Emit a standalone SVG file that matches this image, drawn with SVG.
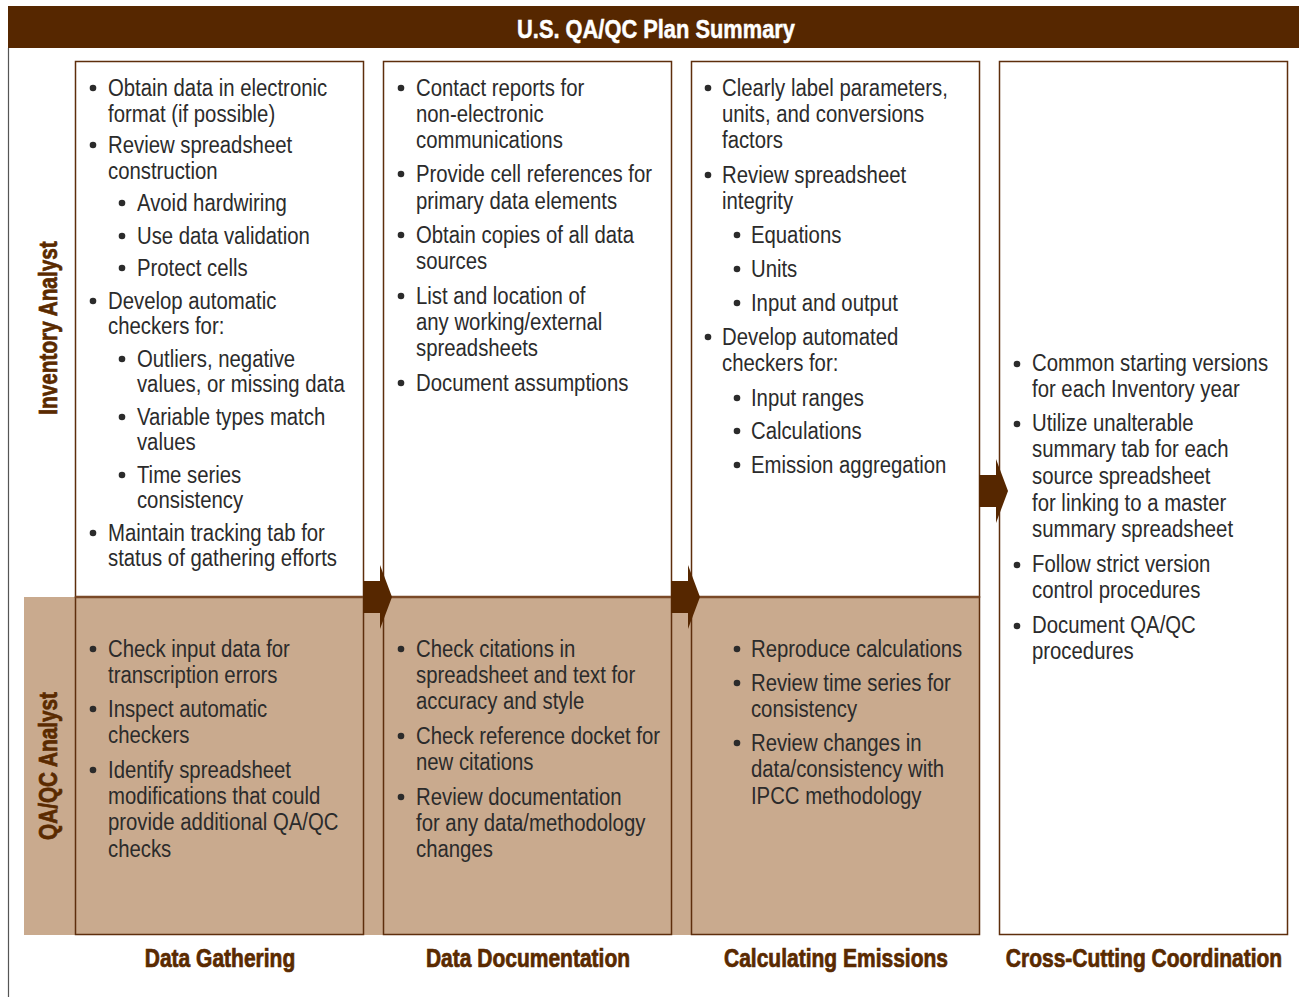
<svg xmlns="http://www.w3.org/2000/svg" width="1299" height="997" viewBox="0 0 1299 997">
<style>
.t{font-family:"Liberation Sans",Arial,sans-serif;font-size:24.5px;fill:#2b2b2b}
.b{font-family:"Liberation Sans",Arial,sans-serif;font-size:25px;font-weight:bold;fill:#5a2a00;stroke:#5a2a00;stroke-width:0.7}
.ttl{font-family:"Liberation Sans",Arial,sans-serif;font-size:26px;font-weight:bold;fill:#ffffff;stroke:#ffffff;stroke-width:0.5}
.box{fill:#ffffff;stroke:#5e2e0c;stroke-width:1.5}
.boxq{fill:#c9aa8e;stroke:#5e2e0c;stroke-width:1.5}
.div{stroke:#7a4a28;stroke-width:2.5}
.dot{fill:#2b2b2b}
.arr{fill:#562700}
</style>
<rect width="1299" height="997" fill="#ffffff"/>
<g id="frame">
<line x1="8.5" y1="48" x2="8.5" y2="997" stroke="#555" stroke-width="1.2"/>
<rect x="8" y="6" width="1291" height="42" fill="#562700"/>
<text class="ttl" transform="translate(656,38) scale(0.84,1)" text-anchor="middle">U.S. QA/QC Plan Summary</text>
<rect x="24" y="597" width="956" height="338" fill="#c9aa8e"/>
</g>
<g id="row-labels">
<text class="b" transform="translate(57,328) rotate(-90) scale(0.83,1)" text-anchor="middle">Inventory Analyst</text>
<text class="b" transform="translate(57,766) rotate(-90) scale(0.83,1)" text-anchor="middle">QA/QC Analyst</text>
</g>

<g id="col1">
<rect class="box" x="75.5" y="61.5" width="288" height="535.5"/>
<rect class="boxq" x="75.5" y="597" width="288" height="337.5"/>
<line class="div" x1="75.5" y1="597" x2="363.5" y2="597"/>
<g class="dot">
<circle cx="93" cy="88" r="3.3"/><circle cx="93" cy="145" r="3.3"/>
<circle cx="122" cy="203" r="3.3"/><circle cx="122" cy="236" r="3.3"/><circle cx="122" cy="268" r="3.3"/>
<circle cx="93" cy="301" r="3.3"/>
<circle cx="122" cy="359" r="3.3"/><circle cx="122" cy="417" r="3.3"/><circle cx="122" cy="475" r="3.3"/>
<circle cx="93" cy="533" r="3.3"/>
<circle cx="93" cy="649" r="3.3"/><circle cx="93" cy="709" r="3.3"/><circle cx="93" cy="770" r="3.3"/>
</g>
<g transform="translate(108,-1) scale(0.83,1)">
<text class="t" x="0" y="97">Obtain data in electronic</text>
<text class="t" x="0" y="123">format (if possible)</text>
<text class="t" x="0" y="154">Review spreadsheet</text>
<text class="t" x="0" y="180">construction</text>
<text class="t" x="34.9" y="212">Avoid hardwiring</text>
<text class="t" x="34.9" y="245">Use data validation</text>
<text class="t" x="34.9" y="277">Protect cells</text>
<text class="t" x="0" y="310">Develop automatic</text>
<text class="t" x="0" y="335">checkers for:</text>
<text class="t" x="34.9" y="368">Outliers, negative</text>
<text class="t" x="34.9" y="393">values, or missing data</text>
<text class="t" x="34.9" y="426">Variable types match</text>
<text class="t" x="34.9" y="451">values</text>
<text class="t" x="34.9" y="484">Time series</text>
<text class="t" x="34.9" y="509">consistency</text>
<text class="t" x="0" y="542">Maintain tracking tab for</text>
<text class="t" x="0" y="567">status of gathering efforts</text>
<text class="t" x="0" y="658">Check input data for</text>
<text class="t" x="0" y="684">transcription errors</text>
<text class="t" x="0" y="718">Inspect automatic</text>
<text class="t" x="0" y="744">checkers</text>
<text class="t" x="0" y="779">Identify spreadsheet</text>
<text class="t" x="0" y="805">modifications that could</text>
<text class="t" x="0" y="831">provide additional QA/QC</text>
<text class="t" x="0" y="858">checks</text>
</g>
<text class="b" transform="translate(220,967) scale(0.84,1)" text-anchor="middle">Data Gathering</text>
</g>

<g id="col2">
<rect class="box" x="383.5" y="61.5" width="288" height="535.5"/>
<rect class="boxq" x="383.5" y="597" width="288" height="337.5"/>
<line class="div" x1="383.5" y1="597" x2="671.5" y2="597"/>
<g class="dot">
<circle cx="401" cy="88" r="3.3"/><circle cx="401" cy="174" r="3.3"/><circle cx="401" cy="235" r="3.3"/>
<circle cx="401" cy="296" r="3.3"/><circle cx="401" cy="383" r="3.3"/>
<circle cx="401" cy="649" r="3.3"/><circle cx="401" cy="736" r="3.3"/><circle cx="401" cy="797" r="3.3"/>
</g>
<g transform="translate(416,-1) scale(0.83,1)">
<text class="t" x="0" y="97">Contact reports for</text>
<text class="t" x="0" y="123">non-electronic</text>
<text class="t" x="0" y="149">communications</text>
<text class="t" x="0" y="183">Provide cell references for</text>
<text class="t" x="0" y="210">primary data elements</text>
<text class="t" x="0" y="244">Obtain copies of all data</text>
<text class="t" x="0" y="270">sources</text>
<text class="t" x="0" y="305">List and location of</text>
<text class="t" x="0" y="331">any working/external</text>
<text class="t" x="0" y="357">spreadsheets</text>
<text class="t" x="0" y="392">Document assumptions</text>
<text class="t" x="0" y="658">Check citations in</text>
<text class="t" x="0" y="684">spreadsheet and text for</text>
<text class="t" x="0" y="710">accuracy and style</text>
<text class="t" x="0" y="745">Check reference docket for</text>
<text class="t" x="0" y="771">new citations</text>
<text class="t" x="0" y="806">Review documentation</text>
<text class="t" x="0" y="832">for any data/methodology</text>
<text class="t" x="0" y="858">changes</text>
</g>
<text class="b" transform="translate(528,967) scale(0.84,1)" text-anchor="middle">Data Documentation</text>
</g>

<g id="col3">
<rect class="box" x="691.5" y="61.5" width="288" height="535.5"/>
<rect class="boxq" x="691.5" y="597" width="288" height="337.5"/>
<line class="div" x1="691.5" y1="597" x2="979.5" y2="597"/>
<g class="dot">
<circle cx="708" cy="88" r="3.3"/><circle cx="708" cy="175" r="3.3"/>
<circle cx="737" cy="235" r="3.3"/><circle cx="737" cy="269" r="3.3"/><circle cx="737" cy="303" r="3.3"/>
<circle cx="708" cy="337" r="3.3"/>
<circle cx="737" cy="398" r="3.3"/><circle cx="737" cy="431" r="3.3"/><circle cx="737" cy="465" r="3.3"/>
<circle cx="737" cy="649" r="3.3"/><circle cx="737" cy="683" r="3.3"/><circle cx="737" cy="743" r="3.3"/>
</g>
<g transform="translate(722,-1) scale(0.83,1)">
<text class="t" x="0" y="97">Clearly label parameters,</text>
<text class="t" x="0" y="123">units, and conversions</text>
<text class="t" x="0" y="149">factors</text>
<text class="t" x="0" y="184">Review spreadsheet</text>
<text class="t" x="0" y="210">integrity</text>
<text class="t" x="34.9" y="244">Equations</text>
<text class="t" x="34.9" y="278">Units</text>
<text class="t" x="34.9" y="312">Input and output</text>
<text class="t" x="0" y="346">Develop automated</text>
<text class="t" x="0" y="372">checkers for:</text>
<text class="t" x="34.9" y="407">Input ranges</text>
<text class="t" x="34.9" y="440">Calculations</text>
<text class="t" x="34.9" y="474">Emission aggregation</text>
<text class="t" x="34.9" y="658">Reproduce calculations</text>
<text class="t" x="34.9" y="692">Review time series for</text>
<text class="t" x="34.9" y="718">consistency</text>
<text class="t" x="34.9" y="752">Review changes in</text>
<text class="t" x="34.9" y="778">data/consistency with</text>
<text class="t" x="34.9" y="805">IPCC methodology</text>
</g>
<text class="b" transform="translate(836,967) scale(0.84,1)" text-anchor="middle">Calculating Emissions</text>
</g>

<g id="col4">
<rect class="box" x="999.5" y="61.5" width="288" height="873"/>
<g class="dot">
<circle cx="1017" cy="364" r="3.3"/><circle cx="1017" cy="424" r="3.3"/><circle cx="1017" cy="565" r="3.3"/><circle cx="1017" cy="626" r="3.3"/>
</g>
<g transform="translate(1032,-1) scale(0.83,1)">
<text class="t" x="0" y="372">Common starting versions</text>
<text class="t" x="0" y="398">for each Inventory year</text>
<text class="t" x="0" y="432">Utilize unalterable</text>
<text class="t" x="0" y="458">summary tab for each</text>
<text class="t" x="0" y="485">source spreadsheet</text>
<text class="t" x="0" y="512">for linking to a master</text>
<text class="t" x="0" y="538">summary spreadsheet</text>
<text class="t" x="0" y="573">Follow strict version</text>
<text class="t" x="0" y="599">control procedures</text>
<text class="t" x="0" y="634">Document QA/QC</text>
<text class="t" x="0" y="660">procedures</text>
</g>
<text class="b" transform="translate(1144,967) scale(0.84,1)" text-anchor="middle">Cross-Cutting Coordination</text>
</g>

<g id="connectors">
<path class="arr" d="M363 581 H380 V565 L392 597 L380 629 V613 H363 Z"/>
<path class="arr" d="M671 581 H688 V565 L700 597 L688 629 V613 H671 Z"/>
<path class="arr" d="M979 475 H996 V459 L1008 491 L996 523 V507 H979 Z"/>
</g>
</svg>
